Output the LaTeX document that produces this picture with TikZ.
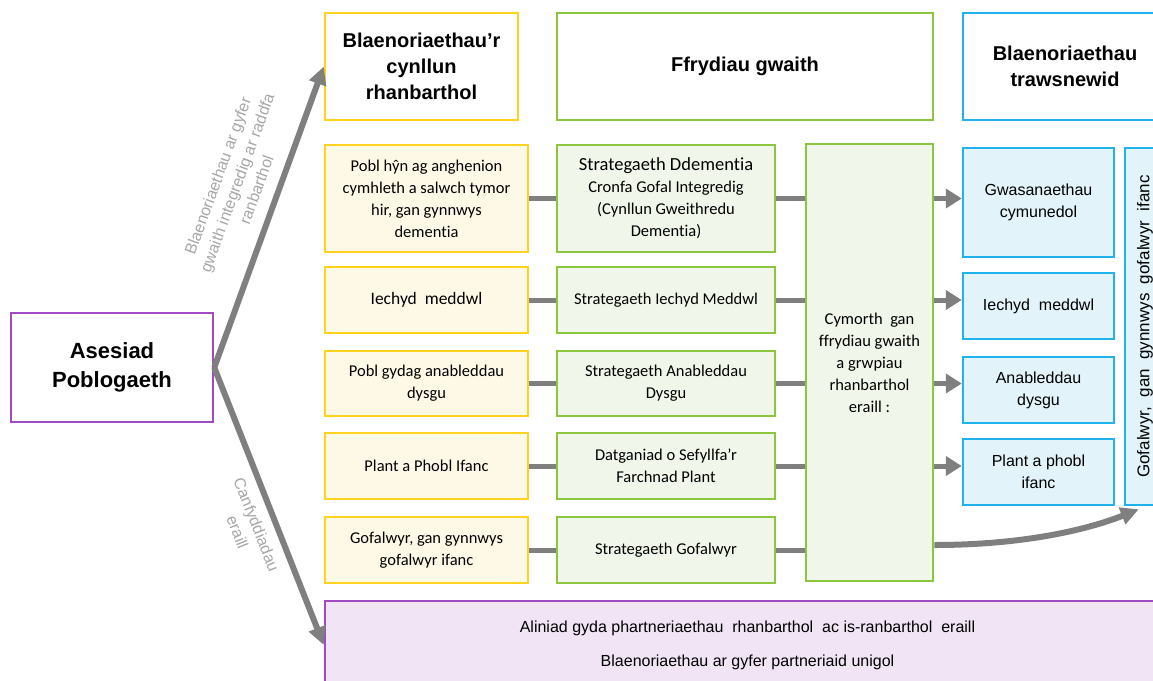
\documentclass[tikz,border=0pt]{standalone}
\usepackage{fontspec}
\setmainfont{Liberation Sans}
\newfontfamily\calibri[Ligatures=NoCommon]{Carlito}
\usetikzlibrary{arrows.meta,calc}
\definecolor{ylwline}{HTML}{FFD21F}
\definecolor{ylwfill}{HTML}{FEF9E7}
\definecolor{grnline}{HTML}{8CC63E}
\definecolor{grnfill}{HTML}{F1F6EA}
\definecolor{bluline}{HTML}{20B2EC}
\definecolor{blufill}{HTML}{E2F3F9}
\definecolor{prpline}{HTML}{A24AC6}
\definecolor{prpfill}{HTML}{F1E5F5}
\definecolor{linkgray}{HTML}{7F7F7F}
\definecolor{lblgray}{HTML}{A6A6A6}
\begin{document}
\begin{tikzpicture}[x=1pt,y=-1pt,
    ylw/.style={draw=ylwline,fill=ylwfill,line width=2.5pt,align=center,inner sep=0pt,minimum width=203pt,font=\calibri\fontsize{16.5}{22}\selectfont},
    grn/.style={draw=grnline,fill=grnfill,line width=2.5pt,align=center,inner sep=0pt,minimum width=218pt,font=\calibri\fontsize{16.5}{22}\selectfont},
    blu/.style={draw=bluline,fill=blufill,line width=2.5pt,align=center,inner sep=0pt,minimum width=151pt,font=\fontsize{16}{22}\selectfont},
    head/.style={fill=white,line width=2.5pt,align=center,inner sep=0pt,minimum height=107pt,font=\bfseries\fontsize{20}{26}\selectfont},
    link/.style={draw=linkgray,line width=5pt},
    arr/.style={link,-{Triangle[length=16pt,width=19pt]}},
    bigarr/.style={draw=linkgray,line width=6pt,-{Triangle[length=18pt,width=17pt]}},
    lbl/.style={text=lblgray,align=center,font=\fontsize{16}{20.5}\selectfont}]
  \useasboundingbox (0,0) rectangle (1153,680);
  \clip (0,0) rectangle (1153,680);
  % column heads
  \node[head,draw=ylwline,minimum width=193pt] (yh) at (421.5,66.5) {Blaenoriaethau'r\\cynllun\\rhanbarthol};
  \node[head,draw=grnline,minimum width=376pt] (gh) at (745,66.5) {Ffrydiau gwaith};
  \node[head,draw=bluline,minimum width=204pt] (bh) at (1065,66.5) {Blaenoriaethau\\trawsnewid};
  % population assessment
  \node[draw=prpline,fill=white,line width=2.5pt,minimum width=202pt,minimum height=109pt,align=center,
    font=\bfseries\fontsize{22}{29}\selectfont] (ases) at (112,367.5) {Asesiad\\Poblogaeth};
  % regional plan priorities
  \node[ylw,minimum height=107pt] (y1) at (426.5,198.5) {Pobl hŷn ag anghenion\\cymhleth a salwch tymor\\hir, gan gynnwys\\dementia};
  \node[ylw,minimum height=66pt] (y2) at (426.5,300) {{\fontsize{17.5}{22}\selectfont Iechyd\ \ meddwl}};
  \node[ylw,minimum height=65pt] (y3) at (426.5,383.5) {Pobl gydag anableddau\\dysgu};
  \node[ylw,minimum height=66pt] (y4) at (426.5,466) {Plant a Phobl Ifanc};
  \node[ylw,minimum height=66pt] (y5) at (426.5,550) {Gofalwyr, gan gynnwys\\gofalwyr ifanc};
  % workstreams
  \node[grn,minimum height=107pt] (g1) at (666,198.5) {{\fontsize{18.5}{22}\selectfont Strategaeth Ddementia}\\Cronfa Gofal Integredig\\(Cynllun Gweithredu\\Dementia)};
  \node[grn,minimum height=66pt] (g2) at (666,300) {Strategaeth Iechyd Meddwl};
  \node[grn,minimum height=65pt] (g3) at (666,383.5) {Strategaeth Anableddau\\Dysgu};
  \node[grn,minimum height=66pt] (g4) at (666,466) {Datganiad o Sefyllfa’r\\Farchnad Plant};
  \node[grn,minimum height=66pt] (g5) at (666,550) {Strategaeth Gofalwyr};
  \node[grn,minimum width=127pt,minimum height=437pt] (cym) at (869.5,362.5) {Cymorth\ \ gan\\ffrydiau gwaith\\a grwpiau\\rhanbarthol\\eraill\ :};
  % transformation priorities
  \node[blu,minimum height=109pt] (b1) at (1038.5,202.5) {Gwasanaethau\\cymunedol};
  \node[blu,minimum height=66pt] (b2) at (1038.5,306) {Iechyd\ \ meddwl};
  \node[blu,minimum height=66pt] (b3) at (1038.5,390) {Anableddau\\dysgu};
  \node[blu,minimum height=66pt] (b4) at (1038.5,472) {Plant a phobl\\ifanc};
  \node[blu,minimum width=40pt,minimum height=357pt] (b5) at (1145,326.5)
    {\rotatebox{90}{\fontsize{17}{20}\selectfont Gofalwyr,\ \ gan\ \ gynnwys\ \ gofalwyr\ \ ifanc}};
  \node[draw=prpline,fill=prpfill,line width=2.5pt,minimum width=845pt,minimum height=88pt,align=center,
    font=\fontsize{16}{34}\selectfont] (prp) at (747.5,645)
    {Aliniad gyda phartneriaethau\ \ rhanbarthol\ \ ac is-ranbarthol\ \ eraill\\Blaenoriaethau ar gyfer partneriaid unigol};
  % connectors
  \foreach \i in {1,...,5}{
    \draw[link] (y\i.east) -- (y\i.east -| g\i.west);
    \draw[link] (g\i.east) -- (g\i.east -| cym.west);
  }
  \foreach \i in {1,...,4}
    \draw[arr] (g\i.east -| cym.east) -- (g\i.east -| b\i.west);
  \coordinate (cstart) at ($(g5.east -| cym.east)+(0,-5)$);
  \coordinate (ctip) at ($(b5.south west)+(15,3)$);
  \draw[bigarr] (cstart) .. controls ($(cstart)+(90,0)$) and ($(ctip)+(-50,20)$) .. (ctip);
  \draw[bigarr] (ases.east) -- node[lbl,sloped,above=9pt,pos=0.566]
    {Blaenoriaethau ar gyfer\\gwaith integredig ar raddfa\\ranbarthol} (yh.west);
  \draw[bigarr] (ases.east) -- node[lbl,sloped,below=6pt,pos=0.542]
    {Canfyddiadau\\eraill} (prp.west);
\end{tikzpicture}
\end{document}
